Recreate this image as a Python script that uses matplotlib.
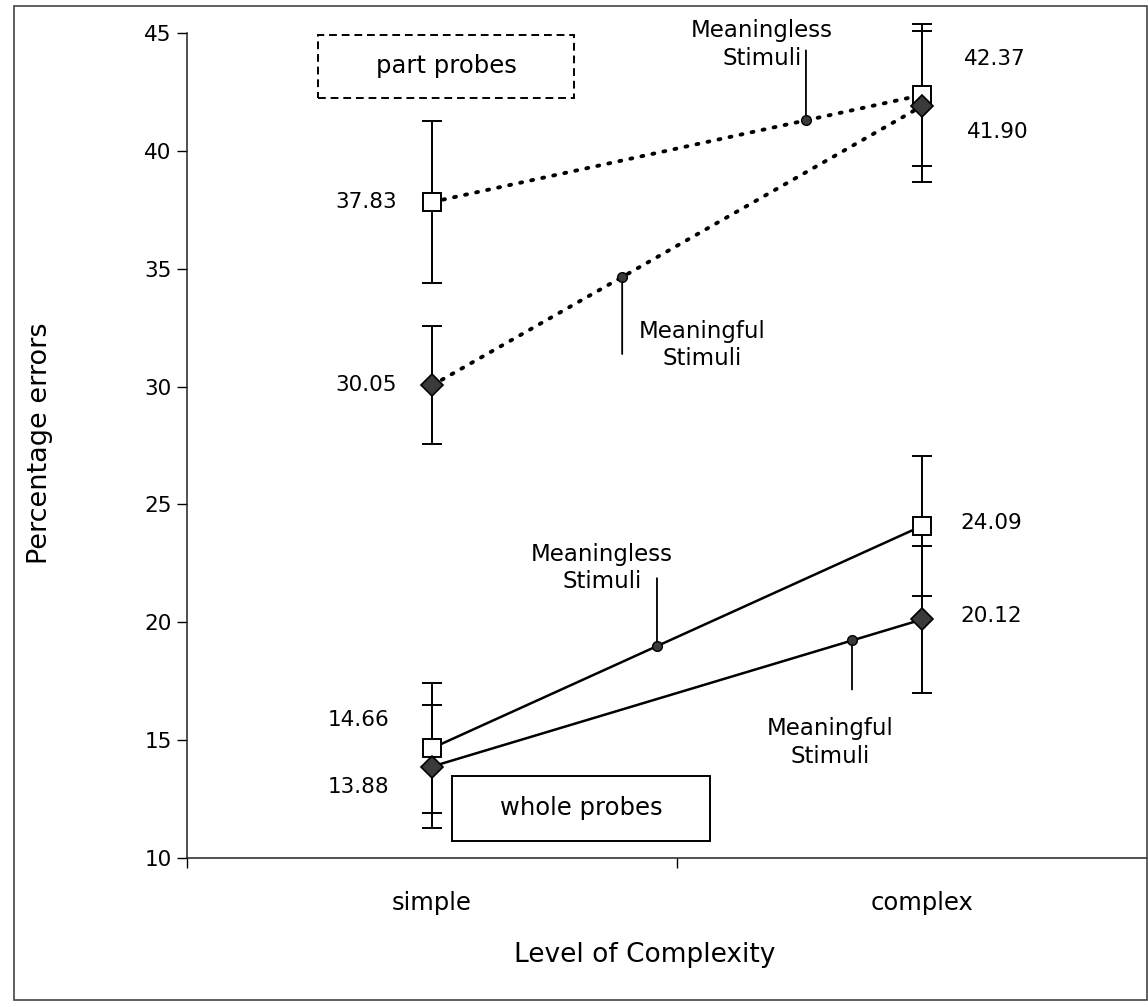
import matplotlib
matplotlib.use("Agg")
import matplotlib.pyplot as plt
from matplotlib.patches import Rectangle
import numpy as np

plt.rcParams['font.family'] = ['DejaVu Sans']

# ---- data ----
categories = ["simple", "complex"]
part_meaningless = [37.83, 42.37]
part_meaningful = [30.05, 41.90]
whole_meaningless = [14.66, 24.09]
whole_meaningful = [13.88, 20.12]
err_part_meaningless = [3.45, 3.0]
err_part_meaningful = [2.5, 3.2]
err_whole_meaningless = [2.76, 2.97]
err_whole_meaningful = [2.6, 3.1]
y_ticks = [10, 15, 20, 25, 30, 35, 40, 45]

W, H = 1148, 1007
fig = plt.figure(figsize=(W / 100, H / 100), dpi=100)

def fx(px):
    return px / W

def fy(py):
    return 1 - py / H

ax = fig.add_axes([fx(187), fy(858), fx(1148) - fx(187), fy(33) - fy(858)])
x = np.arange(len(categories))
FS_NUM = 15.5
FS_CALL = 16.5
FS_WORD = 17.5

# lines
ax.plot(x, part_meaningless, color='black', lw=2.8, linestyle=(0, (0.5, 2.4)),
        dash_capstyle='round', zorder=2)
ax.plot(x, part_meaningful, color='black', lw=2.8, linestyle=(0, (0.5, 2.4)),
        dash_capstyle='round', zorder=2)
ax.plot(x, whole_meaningless, color='black', lw=1.8, zorder=2)
ax.plot(x, whole_meaningful, color='black', lw=1.8, zorder=2)

# error bars
for vals, errs in [(part_meaningless, err_part_meaningless),
                   (part_meaningful, err_part_meaningful),
                   (whole_meaningless, err_whole_meaningless),
                   (whole_meaningful, err_whole_meaningful)]:
    ax.errorbar(x, vals, yerr=errs, fmt='none', ecolor='black', elinewidth=1.4,
                capsize=7, capthick=1.4, clip_on=False, zorder=3)

# markers
for vals in (part_meaningless, whole_meaningless):
    ax.plot(x, vals, linestyle='none', marker='s', markersize=12.5,
            markerfacecolor='white', markeredgecolor='black', markeredgewidth=1.4,
            clip_on=False, zorder=4)
for vals in (part_meaningful, whole_meaningful):
    ax.plot(x, vals, linestyle='none', marker='D', markersize=11,
            markerfacecolor='#3a3a3a', markeredgecolor='black', markeredgewidth=1.2,
            clip_on=False, zorder=5)

# value labels
label_specs = [
    (part_meaningless[0], 0, -35, 0, 'right'),
    (part_meaningful[0], 0, -35, 0, 'right'),
    (whole_meaningless[0], 0, -43, 28, 'right'),
    (whole_meaningful[0], 0, -43, -20, 'right'),
    (part_meaningless[1], 1, 42, 36, 'left'),
    (part_meaningful[1], 1, 45, -26, 'left'),
    (whole_meaningless[1], 1, 38, 3, 'left'),
    (whole_meaningful[1], 1, 38, 3, 'left'),
]
for v, xi, dx, dy, ha in label_specs:
    ax.annotate(f"{v:.2f}", xy=(xi, v), xytext=(dx, dy), textcoords='offset pixels',
                ha=ha, va='center', fontsize=FS_NUM, annotation_clip=False)

# series callouts (position along line as fraction between simple and complex)
callouts = [
    ("Meaningless\nStimuli", part_meaningless, 0.763, 70, -44, 76),
    ("Meaningful\nStimuli", part_meaningful, 0.388, -77, 80, -68),
    ("Meaningless\nStimuli", whole_meaningless, 0.459, 68, -55, 78),
    ("Meaningful\nStimuli", whole_meaningful, 0.857, -49, -22, -102),
]
for text, vals, t, ldy, tdx, tdy in callouts:
    xp = t
    yp = vals[0] + t * (vals[1] - vals[0])
    ax.annotate('', xy=(xp, yp), xytext=(0, ldy), textcoords='offset pixels',
                arrowprops=dict(arrowstyle='-', lw=1.3, color='black',
                                shrinkA=0, shrinkB=0), zorder=3)
    ax.plot([xp], [yp], marker='o', markersize=7, markerfacecolor='#3a3a3a',
            markeredgecolor='black', markeredgewidth=1, zorder=6)
    ax.annotate(text, xy=(xp, yp), xytext=(tdx, tdy), textcoords='offset pixels',
                ha='center', va='center', fontsize=FS_CALL, linespacing=1.25,
                multialignment='center')

# axes formatting
ax.set_xlim(-0.5, 1.461)
ax.set_ylim(10, 45)
ax.set_yticks(y_ticks)
ax.set_yticklabels([str(v) for v in y_ticks], fontsize=FS_NUM)
ax.set_xticks(x)
ax.set_xticklabels(categories, fontsize=FS_WORD)
ax.tick_params(axis='x', which='major', length=0, pad=24)
ax.set_xticks([-0.5, 0.5], minor=True)
ax.tick_params(axis='x', which='minor', length=7, width=1, direction='out')
ax.tick_params(axis='y', length=7, width=1, direction='out', pad=4)
for s in ('top', 'right'):
    ax.spines[s].set_visible(False)
for s in ('left', 'bottom'):
    ax.spines[s].set_linewidth(1.1)
    ax.spines[s].set_color('#222222')
ax.set_xlabel("Level of Complexity", fontsize=FS_WORD + 1.5)
ax.xaxis.set_label_coords((645 - 187) / 961, -(955 - 858) / 825)
ax.set_ylabel("Percentage errors", fontsize=FS_WORD + 2)
ax.yaxis.set_label_coords(-(187 - 40) / 961, (858 - 443) / 825)
ax.yaxis.label.set_va('center')
ax.xaxis.label.set_va('center')

# boxes
fig.patches.append(Rectangle((fx(318), fy(98)), fx(574) - fx(318), fy(35) - fy(98),
                             transform=fig.transFigure, fill=False, lw=1.4,
                             linestyle=(0, (4, 2.5)), edgecolor='black'))
fig.text(fx(446), fy(66), "part probes", ha='center', va='center', fontsize=FS_WORD)
fig.patches.append(Rectangle((fx(452), fy(841)), fx(710) - fx(452), fy(776) - fy(841),
                             transform=fig.transFigure, fill=False, lw=1.4,
                             edgecolor='black'))
fig.text(fx(581), fy(808), "whole probes", ha='center', va='center', fontsize=FS_WORD)

# figure border
fig.patches.append(Rectangle((fx(14), fy(1000)), fx(1147) - fx(14), fy(6) - fy(1000),
                             transform=fig.transFigure, fill=False, lw=1.2,
                             edgecolor='#444444'))

fig.savefig("out.png", dpi=100)
